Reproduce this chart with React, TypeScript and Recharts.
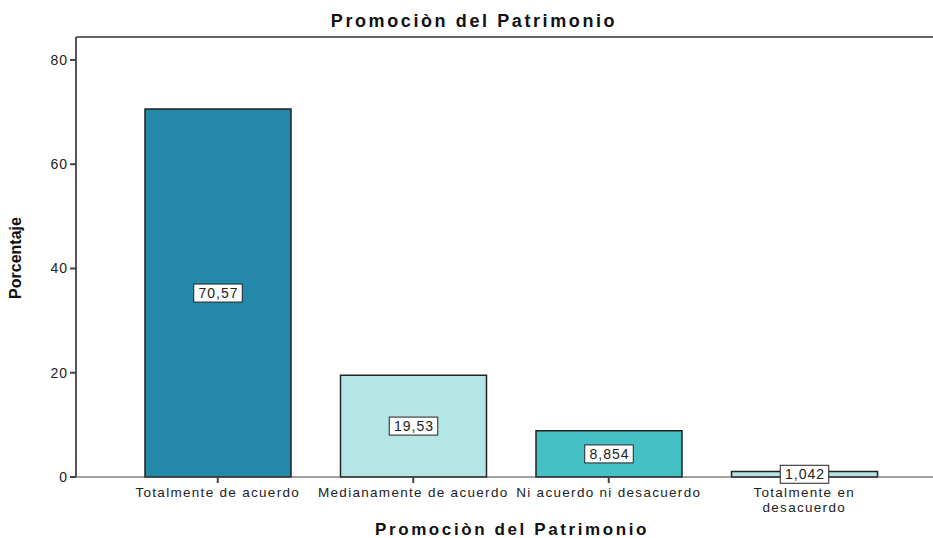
import { BarChart, Bar, XAxis, YAxis, Cell, LabelList, ReferenceLine } from 'recharts';

const categories = [
  'Totalmente de acuerdo',
  'Medianamente de acuerdo',
  'Ni acuerdo ni desacuerdo',
  'Totalmente en desacuerdo',
];
const tickLines = [
  ['Totalmente de acuerdo'],
  ['Medianamente de acuerdo'],
  ['Ni acuerdo ni desacuerdo'],
  ['Totalmente en', 'desacuerdo'],
];
const percentages = [70.57, 19.53, 8.854, 1.042];
const valueLabels = ['70,57', '19,53', '8,854', '1,042'];
const barColors = ['#2388aa', '#b4e6e6', '#45c1c5', '#b4e6e6'];
const yTicks = [0, 20, 40, 60, 80];

const data = categories.map((name, i) => ({ name, value: percentages[i], label: valueLabels[i] }));

const FONT = "'Liberation Sans', Arial, sans-serif";

const XTick = (props: any) => {
  const { x, y, index } = props;
  const lines = tickLines[index] || [];
  return (
    <g>
      {lines.map((l, i) => (
        <text
          key={i}
          x={x}
          y={y + 12 + i * 15}
          textAnchor="middle"
          fontSize={13.5}
          letterSpacing={1.3}
          fill="#222"
          fontFamily={FONT}
        >
          {l}
        </text>
      ))}
    </g>
  );
};

const BoxLabel = (props: any) => {
  const { x, y, width, height, index } = props;
  const text = valueLabels[index];
  const cx = x + width / 2;
  const cy = y + height / 2;
  const w = text.length * 8.5 + 6;
  return (
    <g>
      <rect x={cx - w / 2} y={cy - 9} width={w} height={18} fill="#fff" stroke="#222" strokeWidth={1} />
      <text x={cx + 0.5} y={cy + 5} textAnchor="middle" fontSize={14} letterSpacing={1} fill="#222" fontFamily={FONT}>
        {text}
      </text>
    </g>
  );
};

export default function App() {
  return (
    <div style={{ position: 'absolute', left: 0, top: 0, width: 933, height: 538, background: '#fff' }}>
      <BarChart width={933} height={538} data={data} margin={{ top: 37, right: 0, left: 36, bottom: 0 }} barSize={146}>
        <text x={474} y={27} textAnchor="middle" fontSize={18} fontWeight="bold" letterSpacing={2.6} fill="#111" fontFamily={FONT}>
          Promociòn del Patrimonio
        </text>
        <ReferenceLine y={84.4} stroke="#666" strokeWidth={2} />
        <XAxis
          dataKey="name"
          interval={0}
          height={61}
          padding={{ left: 44, right: 31 }}
          tick={<XTick />}
          tickLine={{ stroke: '#444', strokeWidth: 2 }}
          tickSize={6}
          axisLine={{ stroke: '#444', strokeWidth: 1 }}
        />
        <YAxis
          width={40}
          domain={[0, 84.4]}
          ticks={yTicks}
          tick={{ fontSize: 14, fill: '#222', fontFamily: FONT, letterSpacing: 1 }}
          tickLine={{ stroke: '#444', strokeWidth: 2 }}
          tickSize={6}
          axisLine={{ stroke: '#555', strokeWidth: 2 }}
        />
        <Bar dataKey="value" isAnimationActive={false} stroke="#222" strokeWidth={1.5}>
          {data.map((d, i) => (
            <Cell key={d.name} fill={barColors[i]} />
          ))}
          <LabelList dataKey="label" content={<BoxLabel />} />
        </Bar>
        <text
          x={21}
          y={258}
          transform="rotate(-90 21 258)"
          textAnchor="middle"
          fontSize={16}
          fontWeight="bold"
          fill="#111"
          fontFamily="'Liberation Sans Narrow', 'Liberation Sans', Arial, sans-serif"
        >
          Porcentaje
        </text>
        <text x={512} y={535} textAnchor="middle" fontSize={17} fontWeight="bold" letterSpacing={2.6} fill="#111" fontFamily={FONT}>
          Promociòn del Patrimonio
        </text>
      </BarChart>
    </div>
  );
}
